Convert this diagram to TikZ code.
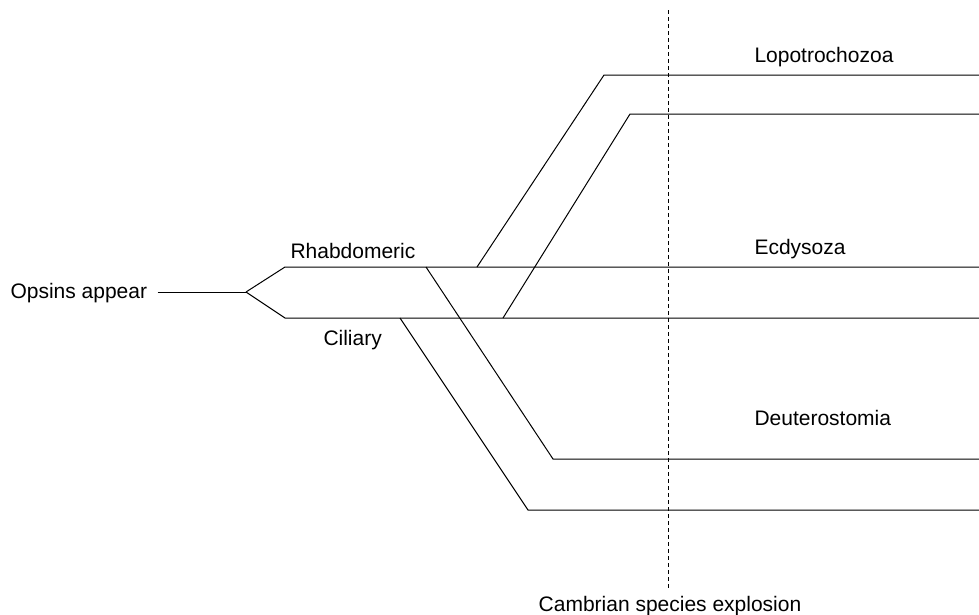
\documentclass[tikz,border=0pt]{standalone}
\usepackage{fontspec}
\setmainfont{Liberation Sans}
\usepackage{tikz}
\usetikzlibrary{positioning}

\begin{document}
\begin{tikzpicture}[x=1pt,y=-1pt, line width=1pt,
  lbl/.style={anchor=base west, inner sep=0pt, font=\fontsize{21}{24}\selectfont}]
\useasboundingbox (0,0) rectangle (979,614);

% Labels (nodes)
\node[lbl] (opsins) at (10,298) {Opsins appear};
\node[lbl] (rhab) at (290,258) {Rhabdomeric};
\node[lbl] (cil) at (323,345) {Ciliary};
\node[lbl] (lopo) at (754,62) {Lopotrochozoa};
\node[lbl] (ecdy) at (754,254) {Ecdysoza};
\node[lbl] (deut) at (754,425) {Deuterostomia};
\node[lbl, anchor=base] (camb) at (670,611) {Cambrian species explosion};

% Branch points
\coordinate (root) at (246,292);
\coordinate (rtop) at (285,267);
\coordinate (rbot) at (285,318);
\coordinate (rd) at (426,267);
\coordinate (ru) at (477,267);
\coordinate (cd) at (400,318);
\coordinate (cu) at (503,318);
\coordinate (lopoA) at (604,75);
\coordinate (lopoB) at (630,114);
\coordinate (deutA) at (553,459);
\coordinate (deutB) at (528,510);

% Stem and fork
\draw ([xshift=10pt]opsins.east |- root) -- (root);
\draw (root) -- (rtop) -- (rtop -| 979,0);
\draw (root) -- (rbot) -- (rbot -| 979,0);

% Branches
\draw (ru) -- (lopoA) -- (lopoA -| 979,0);
\draw (cu) -- (lopoB) -- (lopoB -| 979,0);
\draw (rd) -- (deutA) -- (deutA -| 979,0);
\draw (cd) -- (deutB) -- (deutB -| 979,0);

% Cambrian line
\draw[dash pattern=on 4pt off 3pt, line width=0.8pt] (668,10) -- (668,588);
\end{tikzpicture}
\end{document}
